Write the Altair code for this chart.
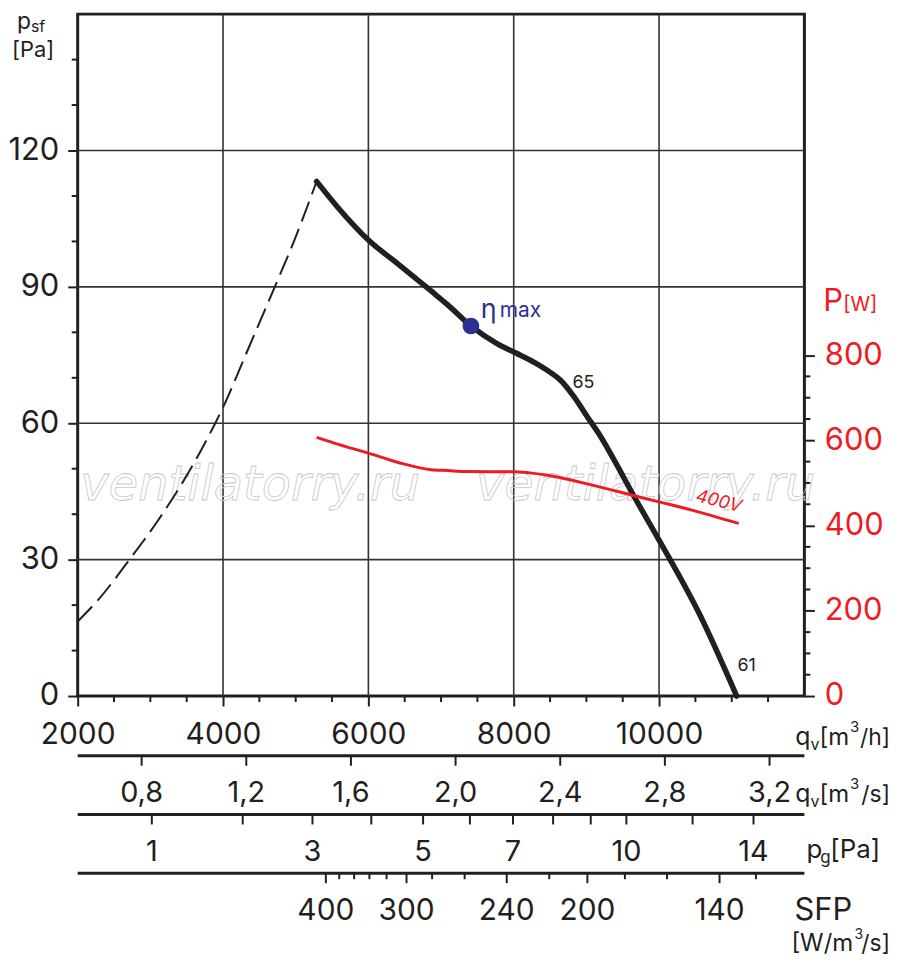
import math
import altair as alt
import pandas as pd

# ---------------- data ----------------
# fan curve (thick) : static pressure p_sf [Pa] over flow q_v [m3/h]
q_fan = [5288, 5589, 6000, 6411, 6863, 7096, 7411, 7781, 8023, 8283, 8466, 8648, 8831, 9014, 9196, 9379, 9653, 10018, 10566, 11068]
psf_fan = [113.2, 107.3, 100.3, 95.0, 89.1, 86.0, 81.4, 77.4, 75.5, 73.4, 71.6, 69.4, 65.8, 61.4, 57.1, 52.0, 44.0, 33.8, 17.7, 0.0]

# stall region (dashed)
q_stall = [2000, 2300, 2712, 3100, 3500, 3886, 4000, 4350, 4712, 5000, 5288]
psf_stall = [16.4, 21.5, 30.0, 38.5, 48.5, 59.8, 63.5, 76.5, 90.0, 101.0, 113.2]

# power input P [W] (red)
q_pow = [5288, 5600, 6000, 6411, 6863, 7096, 7320, 8014, 8250, 8466, 9151, 9658, 10014, 10500, 11096]
P_pow = [607, 590, 570, 548, 531, 529, 527, 526, 523, 518, 492, 470, 455, 434, 405]

# best efficiency point
eta_q, eta_p = 7411, 81.4

# speed labels on the fan curve
spd_text = ["65", "61"]
spd_q = [8959, 11205]
spd_p = [68.9, 6.7]

# axis ticks
x_major = [2000, 4000, 6000, 8000, 10000]
x_minor = [2500, 3000, 3500, 4500, 5000, 5500, 6500, 7000, 7500, 8500, 9000, 9500, 10500, 11000, 11500]
x_grid = [4000, 6000, 8000, 10000]
y_major = [0, 30, 60, 90, 120]
y_minor = [10, 20, 40, 50, 70, 80, 100, 110, 130, 140]
y_grid = [30, 60, 90, 120]
p_major = [0, 200, 400, 600, 800]
p_minor = [50, 100, 150, 250, 300, 350, 450, 500, 550, 650, 700, 750]

# q_v [m3/s] scale
qs_values = [0.8, 1.2, 1.6, 2.0, 2.4, 2.8, 3.2]
qs_labels = ["0,8", "1,2", "1,6", "2,0", "2,4", "2,8", "3,2"]

# dynamic pressure p_g [Pa] scale (q_v[m3/h] = K_PG * sqrt(p_g))
K_PG = 3020
pg_values = [1, 2, 3, 4, 5, 6, 7, 8, 9, 10, 12, 14]
pg_labeled = [1, 3, 5, 7, 10, 14]

# SFP [W/m3/s] scale, tick positions read in q_v [m3/h]
sfp_values = [400, 380, 360, 340, 320, 300, 280, 260, 240, 220, 200, 180, 160, 140, 130]
sfp_q = [5415, 5599, 5804, 6014, 6251, 6525, 6877, 7325, 7904, 8489, 9014, 9530, 10110, 10832, 11333]
sfp_labeled = [400, 300, 240, 200, 140]

# ---------------- styling ----------------
W, H = 730, 685
BLACK = "#231f20"
RED = "#ed1c24"
BLUE = "#2e3192"
GRID = "#333333"
FONT = "Inter"

xs = alt.Scale(domain=[2000, 12000], nice=False, zero=False)
ys = alt.Scale(domain=[0, 150], nice=False, zero=False)
ps = alt.Scale(domain=[0, 1600], nice=False, zero=False)

common_axis = dict(format="d", tickWidth=2, tickColor=BLACK, domain=False, grid=False,
                   labelFont=FONT, labelFlush=False, labelOverlap=False, title=None)
xaxis = alt.Axis(values=x_major, tickSize=10, labelFontSize=30, labelColor=BLACK,
                 labelPadding=38, labelBaseline="alphabetic", **common_axis)
yaxis = alt.Axis(values=y_major, tickSize=10, labelFontSize=31, labelColor=BLACK,
                 labelPadding=9, labelBaseline="middle", **common_axis)
paxis = alt.Axis(orient="right", values=p_major, tickSize=10, labelFontSize=31, labelColor=RED,
                 labelPadding=10, labelBaseline="middle", **common_axis)


def X(f):
    return alt.X(f, type="quantitative", scale=xs, axis=xaxis)


def Y(f):
    return alt.Y(f, type="quantitative", scale=ys, axis=yaxis)


def YP(f):
    return alt.Y(f, type="quantitative", scale=ps, axis=paxis)


one = pd.DataFrame({"a": [0]})


def txt(s, x, y, size, color=BLACK, align="left", **kw):
    return alt.Chart(one).mark_text(text=s, align=align, baseline="alphabetic", font=FONT,
                                    fontSize=size, color=color, **kw).encode(
        x=alt.value(x), y=alt.value(y))


def hline(y):
    return alt.Chart(one).mark_rule(color=BLACK, strokeWidth=3).encode(
        x=alt.value(0), x2=alt.value(W), y=alt.value(y))


def unit_q(base, last):
    # q_v[m3/...] built right-to-left so that it ends inside the picture
    return [
        txt("q", base[0], base[1], 25, align="right"),
        txt("v", base[0] + 9, base[1] + 5, 16, align="right"),
        txt("[m", base[0] + 39, base[1], 24, align="right"),
        txt("3", base[0] + 49, base[1] - 13, 15, align="right"),
        txt(last, base[0] + 80, base[1], 23, align="right"),
    ]


# ---------------- left (p_sf) group ----------------
grid_v = alt.Chart(pd.DataFrame({"q": x_grid})).mark_rule(color=GRID, strokeWidth=1.6).encode(x=X("q"))
grid_h = alt.Chart(pd.DataFrame({"p": y_grid})).mark_rule(color=GRID, strokeWidth=1.6).encode(y=Y("p"))

wm = alt.Chart(pd.DataFrame({"q": [2040, 7480], "p": [43.1, 43.1],
                             "t": ["ventilatorry.ru", "ventilatorry.ru"]})).mark_text(
    align="left", baseline="alphabetic", font="DejaVu Sans", fontStyle="italic", fontSize=48,
    fill="#ffffff", fillOpacity=0, stroke="#c8c8c8", strokeWidth=0.8).encode(
    x=X("q"), y=Y("p"), text="t:N")

stall = alt.Chart(pd.DataFrame({"q": q_stall, "p": psf_stall})).mark_line(
    color=BLACK, strokeWidth=2, strokeDash=[21, 8], interpolate="monotone").encode(x=X("q"), y=Y("p"))

fan = alt.Chart(pd.DataFrame({"q": q_fan, "p": psf_fan})).mark_line(
    color=BLACK, strokeWidth=5.5, interpolate="monotone", strokeCap="round").encode(x=X("q"), y=Y("p"))

eta = alt.Chart(pd.DataFrame({"q": [eta_q], "p": [eta_p]})).mark_circle(
    size=280, color=BLUE, opacity=1).encode(x=X("q"), y=Y("p"))

eta_t1 = alt.Chart(pd.DataFrame({"q": [7548], "p": [83.2]})).mark_text(
    text="η", align="left", baseline="alphabetic", font=FONT, fontSize=27, color=BLUE).encode(
    x=X("q"), y=Y("p"))
eta_t2 = alt.Chart(pd.DataFrame({"q": [7808], "p": [83.4]})).mark_text(
    text="max", align="left", baseline="alphabetic", font=FONT, fontSize=21, color=BLUE).encode(
    x=X("q"), y=Y("p"))

spd = alt.Chart(pd.DataFrame({"q": spd_q, "p": spd_p, "t": spd_text})).mark_text(
    font=FONT, fontSize=18, color=BLACK, baseline="middle").encode(x=X("q"), y=Y("p"), text="t:N")

y_min_ticks = alt.Chart(pd.DataFrame({"p": y_minor})).mark_rule(color=BLACK, strokeWidth=2).encode(
    y=Y("p"), x=alt.value(-6), x2=alt.value(0))
x_min_ticks = alt.Chart(pd.DataFrame({"q": x_minor})).mark_rule(color=BLACK, strokeWidth=2).encode(
    x=X("q"), y=alt.value(H), y2=alt.value(H + 6))

# q_v [m3/s] scale
L1, L2, L3 = 745, 804, 863
qs_df = pd.DataFrame({"q": [v * 3600 for v in qs_values], "t": qs_labels})
qs_ticks = alt.Chart(qs_df).mark_rule(color=BLACK, strokeWidth=2).encode(
    x=X("q"), y=alt.value(L1), y2=alt.value(L1 + 10))
qs_text = alt.Chart(qs_df).mark_text(font=FONT, fontSize=29, color=BLACK, baseline="alphabetic").encode(
    x=X("q"), y=alt.value(L1 + 46), text="t:N")

# p_g scale
pg_df = pd.DataFrame({"q": [K_PG * math.sqrt(v) for v in pg_values]})
pg_lab_df = pd.DataFrame({"q": [K_PG * math.sqrt(v) for v in pg_labeled], "t": [str(v) for v in pg_labeled]})
pg_ticks = alt.Chart(pg_df).mark_rule(color=BLACK, strokeWidth=2).encode(
    x=X("q"), y=alt.value(L2), y2=alt.value(L2 + 10))
pg_text = alt.Chart(pg_lab_df).mark_text(font=FONT, fontSize=29, color=BLACK, baseline="alphabetic").encode(
    x=X("q"), y=alt.value(L2 + 47), text="t:N")

# SFP scale
sfp_df = pd.DataFrame({"q": sfp_q, "v": sfp_values})
sfp_df["major"] = sfp_df["v"].isin(sfp_labeled)
sfp_major_df = sfp_df[sfp_df["major"]].assign(t=lambda d: d["v"].astype(str))
sfp_minor_df = sfp_df[~sfp_df["major"]]
sfp_ticks_major = alt.Chart(sfp_major_df).mark_rule(color=BLACK, strokeWidth=2).encode(
    x=X("q"), y=alt.value(L3), y2=alt.value(L3 + 10))
sfp_ticks_minor = alt.Chart(sfp_minor_df).mark_rule(color=BLACK, strokeWidth=2).encode(
    x=X("q"), y=alt.value(L3), y2=alt.value(L3 + 6))
sfp_text = alt.Chart(sfp_major_df).mark_text(font=FONT, fontSize=30, color=BLACK, baseline="alphabetic").encode(
    x=X("q"), y=alt.value(L3 + 47), text="t:N")

# unit labels
units = (
    [txt("p", -61, 15, 23), txt("sf", -47, 18, 16), txt("[Pa]", -66, 43, 22),
     txt("P", 749, 298, 31, RED), txt("[W]", 769, 298, 20, RED)]
    + unit_q((736, 734), "/h]")
    + unit_q((736, 791), "/s]")
    + [txt("p", 732, 848, 26), txt("g", 746, 853, 17), txt("[Pa]", 756, 848, 26),
       txt("SFP", 720, 910, 31),
       txt("[W/m", 779, 941, 24, align="right"), txt("3", 789, 929, 14, align="right"),
       txt("/s]", 816, 941, 23, align="right")]
)

left = alt.layer(
    grid_v, grid_h, wm, stall, fan, eta, eta_t1, eta_t2, spd,
    y_min_ticks, x_min_ticks,
    hline(L1), qs_ticks, qs_text,
    hline(L2), pg_ticks, pg_text,
    hline(L3), sfp_ticks_major, sfp_ticks_minor, sfp_text,
    *units,
)

# ---------------- right (P) group ----------------
power = alt.Chart(pd.DataFrame({"q": q_pow, "P": P_pow})).mark_line(
    color=RED, strokeWidth=3, interpolate="monotone").encode(x=X("q"), y=YP("P"))
p_min_ticks = alt.Chart(pd.DataFrame({"P": p_minor})).mark_rule(color=BLACK, strokeWidth=2).encode(
    y=YP("P"), x=alt.value(W), x2=alt.value(W + 6))
volt = alt.Chart(pd.DataFrame({"q": [10822], "P": [456], "t": ["400V"]})).mark_text(
    font=FONT, fontSize=18, fontStyle="italic", color=RED, angle=14, baseline="middle").encode(
    x=X("q"), y=YP("P"), text="t:N")

right = alt.layer(power, p_min_ticks, volt)

chart = alt.layer(left, right).resolve_scale(y="independent").properties(
    width=W, height=H,
    autosize=alt.AutoSizeParams(type="none"),
    padding={"left": 70, "top": 4, "right": 88, "bottom": 262},
).configure_view(stroke=BLACK, strokeWidth=3)

chart.save("out.html", embed_options={"renderer": "svg", "actions": False})
